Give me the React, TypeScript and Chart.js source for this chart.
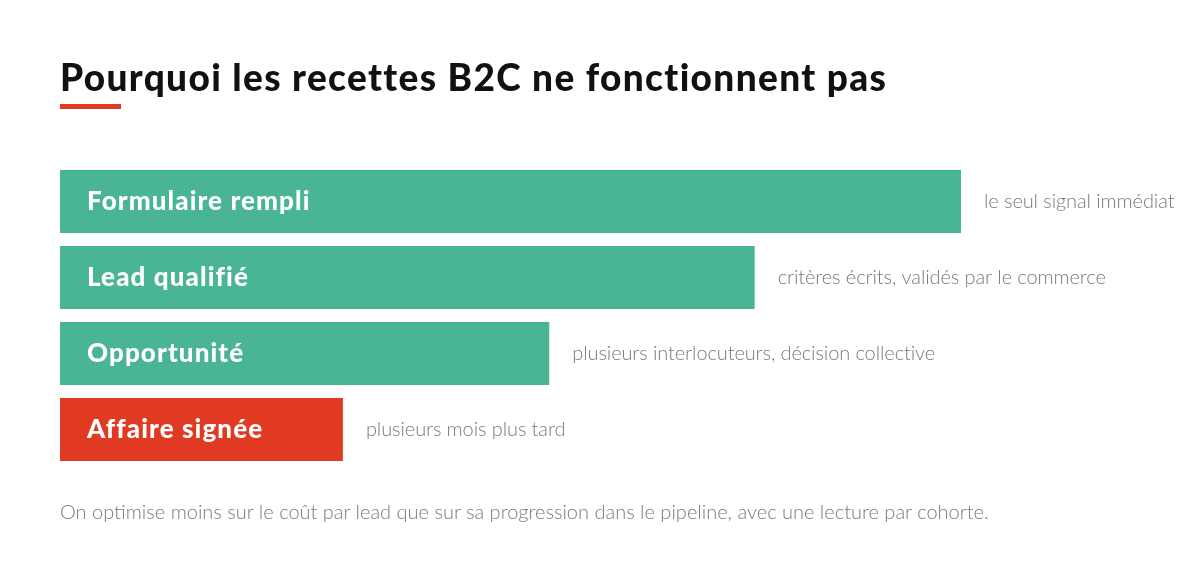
import React, { useEffect, useRef } from "react";
import { Chart, registerables } from "chart.js";

Chart.register(...registerables);

const TITLE = "Pourquoi les recettes B2C ne fonctionnent pas";
const FOOTNOTE =
  "On optimise moins sur le coût par lead que sur sa progression dans le pipeline, avec une lecture par cohorte.";
const STAGES = ["Formulaire rempli", "Lead qualifié", "Opportunité", "Affaire signée"];
const VALUES = [100, 77.1, 54.3, 31.4];
const NOTES = [
  "le seul signal immédiat",
  "critères écrits, validés par le commerce",
  "plusieurs interlocuteurs, décision collective",
  "plusieurs mois plus tard",
];
const COLORS = ["#4ab594", "#4ab594", "#4ab594", "#e03a22"];

const FONT = "Lato, 'Open Sans', sans-serif";

const labelPlugin = {
  id: "barLabels",
  afterDatasetsDraw(chart: any) {
    const ctx = chart.ctx;
    const meta = chart.getDatasetMeta(0);
    ctx.save();
    ctx.textBaseline = "middle";
    meta.data.forEach((bar: any, i: number) => {
      ctx.font = `900 26px ${FONT}`;
      (ctx as any).letterSpacing = "1.1px";
      ctx.fillStyle = "#ffffff";
      ctx.textAlign = "left";
      ctx.fillText(STAGES[i], bar.base + 27, bar.y);
      ctx.font = `300 20px ${FONT}`;
      (ctx as any).letterSpacing = "-0.1px";
      ctx.fillStyle = "#7a7a7a";
      ctx.fillText(NOTES[i], bar.x + 23, bar.y);
    });
    ctx.restore();
  },
};

export default function App() {
  const ref = useRef<HTMLCanvasElement>(null);
  useEffect(() => {
    document.body.style.margin = "0";
    const chart = new Chart(ref.current!, {
      type: "bar",
      data: {
        labels: STAGES,
        datasets: [
          {
            data: VALUES,
            backgroundColor: COLORS,
            borderWidth: 0,
            barPercentage: 63 / 76,
            categoryPercentage: 1,
          },
        ],
      },
      options: {
        indexAxis: "y",
        animation: false,
        responsive: false,
        devicePixelRatio: 1,
        layout: { padding: { left: 60, right: 239, top: 163.5, bottom: 100.5 } },
        scales: {
          x: { display: false, min: 0, max: 100 },
          y: { display: false },
        },
        plugins: { legend: { display: false }, tooltip: { enabled: false } },
      },
      plugins: [labelPlugin],
    });
    return () => chart.destroy();
  }, []);

  return (
    <div style={{ position: "fixed", left: 0, top: 0, width: 1200, height: 568, background: "#fff", fontFamily: FONT }}>
      <canvas ref={ref} width={1200} height={568} style={{ position: "absolute", left: 0, top: 0 }} />
      <div
        style={{
          position: "absolute",
          left: 60,
          top: 55,
          fontSize: 37,
          fontWeight: 900,
          letterSpacing: "1.35px",
          color: "#111",
          lineHeight: "44px",
          whiteSpace: "nowrap",
        }}
      >
        {TITLE}
      </div>
      <div style={{ position: "absolute", left: 60, top: 104, width: 61, height: 5, background: "#e03a22" }} />
      <div
        style={{
          position: "absolute",
          left: 60,
          top: 498,
          fontSize: 20,
          fontWeight: 300,
          color: "#7a7a7a",
          lineHeight: "26px",
          whiteSpace: "nowrap",
        }}
      >
        {FOOTNOTE}
      </div>
    </div>
  );
}
